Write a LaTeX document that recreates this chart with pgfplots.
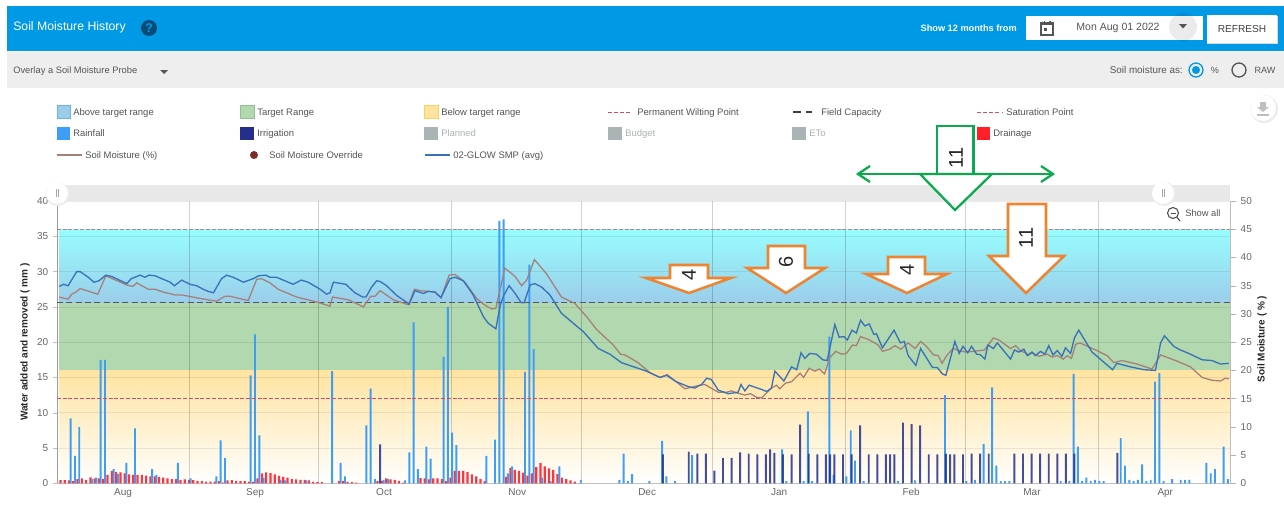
\documentclass[border=0pt]{standalone}
\usepackage{pgfplots}
\usepackage{pgfplotstable}
\usepackage{fontspec}
\setmainfont{Liberation Sans}
\pgfplotsset{compat=1.18}
\definecolor{hdr}{HTML}{0099E6}
\definecolor{strip}{HTML}{EEEEEE}
\definecolor{scrollc}{HTML}{E8E8E8}
\definecolor{cabove}{HTML}{9BCDEA}
\definecolor{abovetop}{HTML}{97FDFE}
\definecolor{aboveedge}{HTML}{6FB4DC}
\definecolor{target}{HTML}{B1D8AE}
\definecolor{targetedge}{HTML}{8FC48C}
\definecolor{cbelow}{HTML}{FFE3A0}
\definecolor{belowedge}{HTML}{FFD060}
\definecolor{rain}{HTML}{3C9EF5}
\definecolor{irr}{HTML}{252E8C}
\definecolor{planned}{HTML}{ABB4B5}
\definecolor{drain}{HTML}{FF1F2B}
\definecolor{soil}{HTML}{A67F78}
\definecolor{smp}{HTML}{3A72B8}
\definecolor{pwp}{HTML}{C8506A}
\definecolor{sat}{HTML}{B87F8A}
\definecolor{fc}{HTML}{505A60}
\definecolor{orng}{HTML}{EE8432}
\definecolor{grn}{HTML}{0BAA4E}
\definecolor{txt}{HTML}{555555}
\definecolor{tickc}{HTML}{666666}
\definecolor{helpc}{HTML}{064A78}
\definecolor{ovr}{HTML}{7B2C2C}

\pgfplotstableread{
d v
3 9.2
4 3.9
5 8.0
8 0.6
9 0.8
10 17.5
11 17.5
13 2.0
14 1.3
16 2.9
18 7.8
22 2.0
23 1.2
28 2.9
31 0.7
37 1.0
38 6.1
39 3.6
45 15.3
46 21.1
47 6.8
48 0.8
52 0.5
53 0.4
58 0.4
64 15.9
66 2.9
67 1.0
72 8.2
73 13.4
74 0.6
76 0.5
77 0.6
81 0.4
82 4.4
83 22.8
84 2.0
86 5.2
87 3.5
90 17.9
91 25.0
92 7.2
93 5.4
100 3.9
102 6.2
103 37.2
104 37.4
105 1.4
106 2.4
109 15.8
110 31.0
111 19.0
113 0.8
115 0.3
117 2.4
122 0.5
131 0.5
132 4.2
133 0.3
134 1.3
138 0.3
141 6.0
142 1.0
144 0.3
148 4.0
169 4.8
170 0.3
174 0.3
175 10.2
176 0.3
180 20.8
181 1.2
184 1.0
185 7.5
186 3.2
188 0.3
196 0.3
200 0.4
207 12.5
212 0.3
214 0.5
216 5.6
218 13.6
219 2.5
220 0.3
221 0.3
222 0.3
234 0.3
236 0.3
237 15.5
238 5.2
239 0.3
240 0.8
241 0.3
242 0.5
243 0.3
244 0.3
248 6.4
249 2.5
250 0.5
251 0.3
252 0.5
253 2.7
254 0.3
255 0.5
256 14.4
257 15.6
258 0.3
260 0.6
262 0.5
263 0.5
264 0.5
268 2.9
269 1.4
270 2.0
272 5.2
273 0.6
}\raintable

\pgfplotstableread{
d v
75 5.5
141 4.1
147 4.5
149 4.2
151 4.2
153 1.8
155 3.6
157 3.6
159 4.4
161 4.2
163 4.1
165 4.1
166 4.8
167 4.3
169 4.1
171 4.1
173 8.3
175 4.2
177 4.1
179 4.1
180 4.1
181 4.1
183 4.1
185 4.1
187 8.2
189 4.1
191 4.1
193 4.1
194 4.1
195 4.1
197 8.6
199 8.4
201 8.2
203 4.1
205 4.1
207 4.2
208 4.1
209 4.1
211 4.1
213 4.2
215 4.2
217 4.2
223 4.2
225 4.2
227 4.2
229 4.2
231 4.2
233 4.2
235 4.2
237 4.2
247 4.3
}\irrtable

\pgfplotstableread{
d v
1 .45
2 .45
3 .4
4 .3
5 .6
6 .7
7 .5
8 .85
9 .7
10 .7
11 .6
12 1.2
13 1.75
14 1.6
15 1.55
16 1.4
17 1.25
18 1.2
19 1.2
20 1.2
21 1.1
22 1.0
23 1.0
24 .9
25 .8
26 .7
27 .6
28 .6
29 .5
30 .55
31 .5
32 .45
33 .3
34 .3
35 .25
36 .25
37 .25
38 .3
39 .1
40 .4
41 .45
42 .35
43 .3
44 .3
45 .25
46 .2
47 .7
48 1.4
49 1.55
50 1.45
51 1.25
52 1.05
53 .9
54 .8
55 .6
56 .55
57 .5
58 .5
59 .4
60 .2
61 .2
62 .15
66 .35
67 .35
68 .2
69 .15
70 .1
75 .3
76 .35
77 .7
78 .55
79 .5
80 .35
81 .1
85 .75
86 .7
87 .55
88 .7
89 .7
90 .6
91 .3
92 .8
93 1.75
94 1.75
95 1.75
96 1.6
97 1.25
98 1.0
99 .6
100 .3
105 .9
106 2.2
107 1.9
108 1.75
109 1.5
110 1.1
111 1.4
112 2.3
113 2.85
114 2.4
115 2.1
116 1.9
117 1.3
118 .8
119 .6
120 .4
121 .25
}\draintable

\pgfplotstableread{
d v
0.5 27.9
1.5 28.2
2.6 28.0
4.6 30.0
5.4 30.0
7.3 29.2
8.6 28.5
9.8 28.7
11.4 29.5
12.8 29.3
16.3 28.3
17.3 29.0
19.4 29.5
20.5 29.2
21.5 29.5
22.9 29.4
26.4 28.5
27.4 28.0
29.1 28.8
31 28.2
32.6 28.0
34.1 27.5
35.3 27.2
36.5 27.0
38.4 29.0
39.6 29.5
41.1 29.2
43.5 28.5
45.8 29.0
47 29.4
48.7 29.5
49.7 29.2
51.2 29.2
55.1 28.2
57 28.8
58.6 28.5
61.4 27.5
62.9 26.8
63.7 27.0
64.5 28.5
67.4 28.2
69.5 27.0
71.3 26.4
72.1 26.4
73.4 27.8
74.6 28.7
75.4 28.6
76.9 28.0
79.3 26.6
82.2 25.4
83.5 27.3
85.5 26.9
86.6 27.2
88.2 27.1
89.6 26.3
91.7 29.0
92.9 29.2
94.8 28.7
97.1 26.7
99.5 23.6
100.6 22.7
102.4 21.9
103.4 25.2
104.3 26.7
105.5 28.0
106.9 26.9
108.3 25.6
109 25.6
110.4 28.1
111.5 28.3
113.1 27.8
115 26.7
117.7 24.1
121.6 22.1
122.8 21.5
126.3 19.1
129 18.3
131.7 17.1
135.1 16.4
137.5 15.9
140.7 15.0
142.2 15.3
144.5 14.4
147.3 13.7
148.8 13.5
150.4 14.0
151.6 14.9
152.7 14.7
154.3 13.2
156.6 12.7
158.9 12.9
159.6 14.0
160.5 13.1
161.5 13.9
164.4 13.3
165.6 13.0
166.7 13.5
167.5 15.9
169.6 14.5
171.4 16.5
172.6 16.1
173.6 18.5
174.5 17.7
175.6 18.4
177.2 18.3
178.7 17.5
179.7 17.4
181.5 22.5
182.5 20.7
183.6 20.8
184.4 20.3
185.5 21.7
186.5 21.3
187.5 23.1
188.5 22.3
189.5 22.6
190.6 21.1
191.2 21.2
192.6 19.2
195.3 21.7
196.8 19.9
197.7 20.1
198.6 18.1
200.4 16.7
201.5 19.1
204.3 16.4
205.4 16.4
206.6 15.5
207.4 15.3
209.5 20.1
210.5 18.4
211.4 19.4
212.5 18.5
213.4 19.4
214.6 18.3
215.5 18.2
216.5 17.6
217.2 19.6
218.5 19.1
219.4 19.9
222.5 17.6
223.4 18.9
224.4 18.6
225.6 19.0
226.4 18.1
227.5 18.6
228.3 18.1
229.5 18.7
230.5 18.3
231.4 19.5
232.4 18.2
233.4 18.8
234.5 18.0
235.3 19.2
236.5 18.4
237.4 20.6
238.4 21.7
241.5 18.6
246.3 16.1
247.3 17.0
250.5 16.5
253.6 16.1
256.3 16.0
257.5 19.9
258.4 20.9
260.6 19.4
262.1 18.9
264.1 18.4
267.2 17.5
269.5 17.4
271.5 16.9
273.4 17.0
}\smptable

\pgfplotstableread{
d v
0.5 26.4
2.6 26.1
3.4 26.8
4.4 27.1
5.4 27.6
9.5 26.8
11.4 29.4
16.3 28.1
17.7 27.9
18.6 28.4
21.3 27.5
22.9 27.5
24.8 27.1
27.5 26.7
29.1 26.7
33.4 26.2
37.2 25.8
39.2 26.5
40.4 26.5
44.6 25.9
46.6 28.9
47.7 29.0
49.7 28.4
51.6 27.5
55.9 26.4
60.6 25.7
63.7 25.1
64.3 26.4
68 26.0
71.5 25.0
73.2 26.5
74.2 26.5
75.4 27.3
78.5 26.0
82 25.3
83.4 27.5
84.7 27.3
86.6 27.2
88.2 27.1
89.6 26.3
91.5 29.5
92.9 29.6
95.2 28.5
97.9 26.2
99.5 25.4
101.4 24.7
102.4 24.8
104.5 30.5
106.9 29.3
108.4 28.0
109.6 28.8
111.4 31.7
114.2 29.7
117.7 26.4
120.8 25.5
123.6 23.6
125.9 21.8
129.8 19.6
131.5 18.3
132.5 18.2
135.6 17.1
138.3 15.7
140.7 15.0
142.4 15.4
146.5 13.4
150 13.9
151.2 14.0
154.3 12.9
156.2 12.9
157.4 13.1
158.7 12.8
160.5 12.5
161.8 12.7
163.2 12.2
164.4 12.1
166.7 13.5
167.9 13.9
168.6 13.4
170 14.2
171.4 14.4
172.4 15.0
173.4 15.6
174.2 15.0
175.5 16.3
176.8 15.9
177.9 16.2
179.1 15.5
180.3 17.8
181.7 18.7
183 18.3
184.2 18.4
185.6 19.6
186.5 19.5
187.5 20.8
189.6 20.3
191.6 19.6
192.6 18.7
194.3 19.0
195.5 19.5
196.9 19.0
198.6 19.9
200.2 19.1
201.5 20.1
202.9 19.4
204.5 18.2
205.6 18.1
206.5 17.0
207.7 18.2
209.1 19.1
210.6 18.8
212 18.6
213.9 18.7
216.4 18.9
218.5 20.6
219.8 20.3
222.5 19.1
223.7 19.5
224.8 18.8
226.8 18.2
227.5 18.5
229.1 18.0
231 18.3
232.2 17.9
233.4 18.1
234.8 17.6
235.7 18.1
236.7 17.7
237.7 19.7
238.7 19.9
242.7 18.8
245 18.1
246.6 17.1
248.5 17.4
252 16.9
255.5 16.2
257.5 18.2
261.4 17.3
264.5 16.5
267.2 15.0
269.5 14.6
271.5 14.5
272.6 14.9
273.4 14.8
}\soiltable

\pgfplotsset{base/.style={
  scale only axis, width=879.75pt, height=211.7pt,
  at={(42.75pt,-362.475pt)}, anchor=south west,
  xmin=0, xmax=273.7, ymin=0, ymax=40,
}}
\newcommand{\lt}[4][txt]{\node[anchor=base west,inner sep=0pt,text=#1,font=\fontsize{7.1}{8}\selectfont] at (#2,#3+3.4) {#4};}
% xl xr ytop yshoulder headl headr tipx label
\newcommand{\orarrow}[8]{%
  \draw[orng,line width=1.9pt,fill=white,miter limit=8,line join=miter]
   (#1,#3) -- (#2,#3) -- (#2,#4) -- (#6,#4) -- (#7,293) -- (#5,#4) -- (#1,#4) -- cycle;
  \node[rotate=90,inner sep=0pt,text=black!85,font=\fontsize{15}{16}\selectfont] at (#7,#8) {\ifnum#4=256 11\else\ifnum#3=246 6\else 4\fi\fi};}

\begin{document}
\begin{tikzpicture}[x=0.75pt,y=-0.75pt]
\path[use as bounding box] (0,0) rectangle (1284,507);
\fill[white] (0,0) rectangle (1284,507);
% header
\fill[hdr] (7,6) rectangle (1284,51);
\fill[strip] (7,51.5) rectangle (1284,88);
\node[anchor=west,inner sep=0pt,text=white,font=\fontsize{9.2}{10}\selectfont] at (13,27) {Soil Moisture History};
\fill[helpc] (149,28) circle (8);
\node[text=hdr,inner sep=0pt,font=\bfseries\fontsize{9.5}{10}\selectfont] at (149,28) {?};
\node[anchor=west,inner sep=0pt,text=txt,font=\fontsize{7}{8}\selectfont] at (13,71) {Overlay a Soil Moisture Probe};
\fill[txt] (160,70) -- (168,70) -- (164,74) -- cycle;
\node[anchor=east,inner sep=0pt,text=white,font=\bfseries\fontsize{6.9}{8}\selectfont] at (1017,28) {Show 12 months from};
\fill[white] (1026,16) rectangle (1203,40);
\draw[txt,line width=.9pt] (1041,22.5) rectangle (1053,35);
\fill[txt] (1041,22.5) rectangle (1053,25);
\fill[txt] (1043.5,20.5) rectangle (1045,23);
\fill[txt] (1049,20.5) rectangle (1050.5,23);
\fill[txt] (1044,28) rectangle (1047,31);
\node[inner sep=0pt,text=txt,font=\fontsize{7.9}{8}\selectfont] at (1118,28) {Mon Aug 01 2022};
\begin{scope}
\clip (1165,10) rectangle (1203,40);
\fill[black,opacity=.08] (1183,27) circle (14);
\end{scope}
\fill[txt] (1179,24) -- (1187,24) -- (1183,28.5) -- cycle;
\fill[black!15] (1207,16) rectangle (1278,44);
\fill[white] (1207,15) rectangle (1277,43);
\node[inner sep=0pt,text=black!75,font=\fontsize{7.6}{8}\selectfont] at (1242,29) {REFRESH};
\node[anchor=east,inner sep=0pt,text=txt,font=\fontsize{7.4}{8}\selectfont] at (1183,70) {Soil moisture as:};
\draw[hdr,line width=1pt] (1196,70) circle (7);
\fill[hdr] (1196,70) circle (4);
\node[inner sep=0pt,text=txt,font=\fontsize{6.8}{8}\selectfont] at (1215,70) {\%};
\draw[txt,line width=1pt] (1239,70) circle (7);
\node[inner sep=0pt,text=txt,font=\fontsize{6.8}{8}\selectfont] at (1265,70) {RAW};
\fill[black!8] (1264,109) circle (14);
\fill[white] (1263,108) circle (13);
\fill[black!25] (1260,102) rectangle (1266,107);
\fill[black!25] (1257,107) -- (1269,107) -- (1263,112) -- cycle;
\fill[black!25] (1257,114) rectangle (1269,115.5);
% legend
\fill[cabove] (57,105) rectangle (70,118);
\draw[aboveedge,line width=.4pt] (57,105) rectangle (70,118);
\lt{73}{112}{Above target range}
\fill[target] (240,105) rectangle (254,118);
\draw[targetedge,line width=.4pt] (240,105) rectangle (254,118);
\lt{257}{112}{Target Range}
\fill[cbelow] (424,105) rectangle (438,118);
\draw[belowedge,line width=.4pt] (424,105) rectangle (438,118);
\lt{441}{112}{Below target range}
\draw[pwp,line width=.6pt,dash pattern=on 3pt off 1.6pt] (608,112) -- (632,112);
\lt{637}{112}{Permanent Wilting Point}
\draw[fc!70!black,line width=.8pt,dash pattern=on 6pt off 4pt] (793,112) -- (812,112);
\lt{821}{112}{Field Capacity}
\draw[pwp,line width=.6pt,dash pattern=on 3pt off 1.6pt] (977,112) -- (1003,112);
\lt{1006}{112}{Saturation Point}
\fill[rain] (57,127) rectangle (70,140);
\lt{73}{133.5}{Rainfall}
\fill[irr] (240,127) rectangle (254,140);
\lt{257}{133.5}{Irrigation}
\fill[planned] (424,127) rectangle (438,140);
\lt[planned]{441}{133.5}{Planned}
\fill[planned] (608,127) rectangle (622,140);
\lt[planned]{625}{133.5}{Budget}
\fill[planned] (792,127) rectangle (806,140);
\lt[planned]{809}{133.5}{ETo}
\fill[drain] (977,127) rectangle (990,140);
\lt{993}{133.5}{Drainage}
\draw[soil,line width=.95pt] (57,155) -- (82,155);
\lt{85}{155.5}{Soil Moisture (\%)}
\fill[ovr] (254,155) circle (4);
\lt{269}{155.5}{Soil Moisture Override}
\draw[smp,line width=.95pt] (425,155) -- (450,155);
\lt{453}{155.5}{02-GLOW SMP (avg)}
% scroll strip
\fill[scrollc] (57,185) rectangle (1230,201);

% bands
\begin{axis}[base, axis lines=none, clip=true]
\addplot[draw=none, top color=abovetop, bottom color=cabove, forget plot]
  coordinates {(0.5,25.6)(273.7,25.6)(273.7,36)(0.5,36)} -- cycle;
\addplot[draw=none, fill=target, forget plot]
  coordinates {(0.5,16)(273.7,16)(273.7,25.6)(0.5,25.6)} -- cycle;
\addplot[draw=none, top color=cbelow, bottom color=white, forget plot]
  coordinates {(0.5,0)(273.7,0)(273.7,16)(0.5,16)} -- cycle;
\end{axis}

% data
\begin{axis}[base,
  axis x line*=bottom, axis y line*=left,
  axis line style={black!25,line width=.5pt},
  xtick={15.4,46.2,76.3,107.4,137.7,168.5,199.3,227.5,258.6},
  xticklabels={Aug,Sep,Oct,Nov,Dec,Jan,Feb,Mar,Apr},
  major x tick style={draw=none},
  extra x ticks={0,31,60.9,92,122.3,153,184,212,243},
  extra x tick labels={},
  extra x tick style={grid=major, major grid style={black,opacity=.18,line width=.7pt}, major tick length=0pt},
  ytick={0,5,...,40},
  ymajorgrids, major grid style={black,opacity=.08,line width=.5pt},
  major y tick style={black!25},
  tick align=outside, major tick length=3pt,
  tick label style={text=tickc,font=\fontsize{7.5}{8}\selectfont},
  /pgf/number format/assume math mode=true,
  xticklabel style={anchor=base,yshift=-6pt},
  ylabel={\textbf{Water added and removed ( mm )}},
  every axis y label/.style={at={(rel axis cs:0,0.5)},rotate=90,anchor=center,yshift=24pt,text=black!85,font=\fontsize{7.5}{8}\selectfont},
]
\addplot[ybar, bar width=1.65pt, bar shift=-.64pt, fill=drain, draw=none, opacity=.9] table[x=d,y=v] {\draintable};
\addplot[ybar, bar width=1.45pt, bar shift=.64pt, fill=rain, draw=none] table[x=d,y=v] {\raintable};
\addplot[ybar, bar width=1.45pt, bar shift=1.29pt, fill=irr, draw=none, opacity=.85] table[x=d,y=v] {\irrtable};
\addplot[sat, line width=.8pt, dash pattern=on 3pt off 1.3pt, no marks] coordinates {(0,36)(273.7,36)};
\addplot[fc, line width=.95pt, dash pattern=on 4.5pt off 2.5pt, no marks] coordinates {(0,25.6)(273.7,25.6)};
\addplot[pwp, line width=.7pt, dash pattern=on 3pt off 1.3pt, no marks] coordinates {(0,12)(273.7,12)};
\addplot[soil, line width=.95pt, no marks] table[x=d,y=v] {\soiltable};
\addplot[smp, line width=1pt, no marks] table[x=d,y=v] {\smptable};
\end{axis}

% right axis
\begin{axis}[base, ymin=0, ymax=50,
  axis x line=none, axis y line*=right,
  axis line style={black!25,line width=.5pt},
  ytick={0,5,...,50},
  major tick length=4.5pt, tick align=outside,
  major y tick style={black!30},
  tick label style={text=tickc,font=\fontsize{7.5}{8}\selectfont},
  /pgf/number format/assume math mode=true,
]
\addplot[draw=none, forget plot] coordinates {(0,0)(273.7,50)};
\end{axis}
\node[rotate=90,inner sep=0pt,text=black!85,font=\bfseries\fontsize{7.5}{8}\selectfont] at (1262,339) {Soil Moisture ( \% )};

% scroll handles and zoom
\fill[black!8] (57.5,194) circle (12);
\fill[white] (57,193) circle (11);
\draw[black!35,line width=.4pt] (56,189) -- (56,197) (58.5,189) -- (58.5,197);
\fill[black!8] (1164,194) circle (12);
\fill[white] (1163,193) circle (11);
\draw[black!35,line width=.4pt] (1162,189) -- (1162,197) (1164.5,189) -- (1164.5,197);
\draw[black!70,line width=.8pt] (1173,213) circle (5.5);
\draw[black!70,line width=.8pt] (1177,217.5) -- (1180,221);
\draw[black!70,line width=.6pt] (1170.5,213) -- (1175.5,213);
\node[anchor=west,inner sep=0pt,text=txt,font=\fontsize{7}{8}\selectfont] at (1185,213.5) {Show all};

% annotation arrows
\orarrow{670}{708}{265}{278}{646}{731}{689}{275}
\orarrow{768}{805}{246}{268}{747}{825}{786}{262}
\orarrow{888}{925}{257}{274}{866}{947}{907}{270}
\orarrow{1008}{1046}{204}{256}{989}{1064}{1026}{238}
% green arrow
\draw[grn,line width=1.7pt,fill=white,line join=miter]
  (937,174) -- (937,126) -- (973.5,126) -- (973.5,174);
\draw[grn,line width=1.7pt,fill=white,line join=miter]
  (920,174) -- (992,174) -- (955,210) -- cycle;
\draw[grn,line width=1.7pt] (860,174) -- (1051,174);
\draw[grn,line width=1.7pt] (870,166) -- (858,174) -- (870,182);
\draw[grn,line width=1.7pt] (1041,166) -- (1053,174) -- (1041,182);
\node[rotate=90,inner sep=0pt,text=black!85,font=\fontsize{15}{16}\selectfont] at (956,158) {11};
\end{tikzpicture}
\end{document}
